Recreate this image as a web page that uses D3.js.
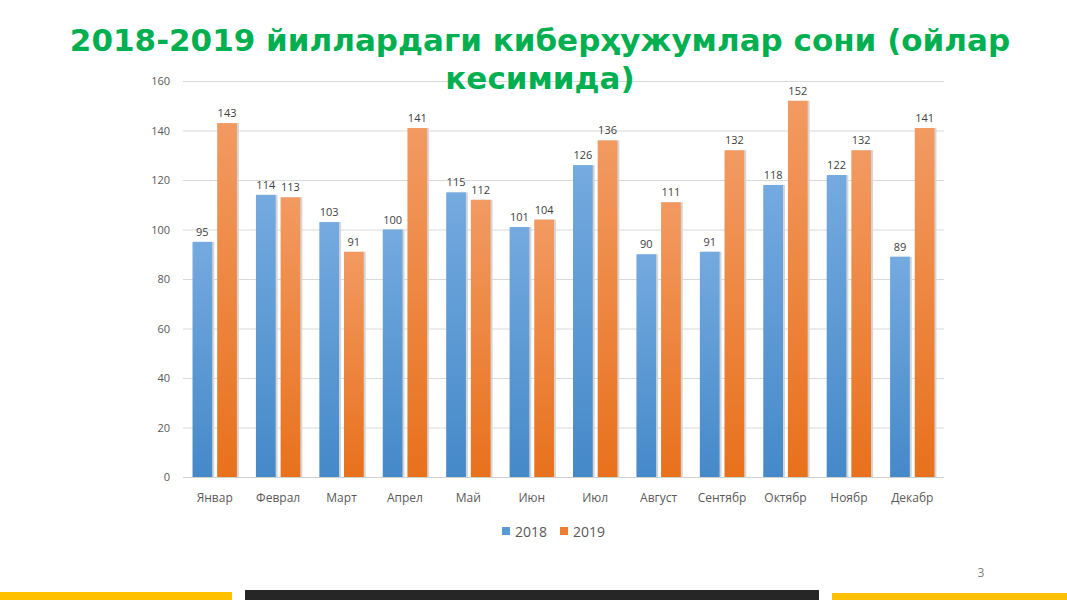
<!DOCTYPE html>
<html><head><meta charset="utf-8">
<script src="https://cdn.jsdelivr.net/npm/d3@7"></script>
<style>body{margin:0;background:#fff;overflow:hidden}</style>
</head><body>
<svg id="c" width="1067" height="600"></svg>
<script>
const months = ["Январ","Феврал","Март","Апрел","Май","Июн","Июл","Август","Сентябр","Октябр","Ноябр","Декабр"];
const values2018 = [95,114,103,100,115,101,126,90,91,118,122,89];
const values2019 = [143,113,91,141,112,104,136,111,132,152,132,141];
const seriesNames = ["2018","2019"];
const yTicks = [0,20,40,60,80,100,120,140,160];
const titleLines = ["2018-2019 йиллардаги киберҳужумлар сони (ойлар","кесимида)"];

(function(){
const svg = d3.select("#c");
const defs = svg.append("defs");
function grad(id, t, b){
  const g = defs.append("linearGradient").attr("id",id).attr("x1",0).attr("y1",0).attr("x2",0).attr("y2",1);
  g.append("stop").attr("offset","0%").attr("stop-color",t);
  g.append("stop").attr("offset","100%").attr("stop-color",b);
}
grad("gBlue","#74aadf","#4589c9");
grad("gOrange","#f29a62","#e8711c");
const fills = ["url(#gBlue)","url(#gOrange)"];
const legendFills = ["#5b9bd5","#ed7d31"];

const pL = 183, pR = 944, pT = 81, pB = 477;
const x = d3.scaleBand().domain(months).range([pL,pR]).paddingInner(0.3).paddingOuter(0.15);
const xs = d3.scaleBand().domain(seriesNames).range([0,x.bandwidth()]).paddingInner(0.2);
const y = d3.scaleLinear().domain([0,160]).range([pB,pT]);

svg.append("g").selectAll("line").data(yTicks).join("line")
  .attr("x1",pL).attr("x2",pR).attr("y1",d=>y(d)+0.5).attr("y2",d=>y(d)+0.5)
  .attr("stroke",d=>d===0?"#d0d0d0":"#d9d9d9").attr("stroke-width",1);

const yAxis = d3.axisLeft(y).tickValues(yTicks).tickSize(0).tickPadding(0);
const ya = svg.append("g").attr("transform",`translate(170,0)`).call(yAxis);
ya.select(".domain").remove();
ya.selectAll("text").attr("font-family","'Open Sans', sans-serif").attr("font-size",11).attr("fill","#595959");

const xAxis = d3.axisBottom(x).tickSize(0).tickPadding(0);
const xa = svg.append("g").attr("transform",`translate(0,${pB+16})`).call(xAxis);
xa.select(".domain").remove();
xa.selectAll("text").attr("font-family","'Open Sans', sans-serif").attr("font-size",12).attr("fill","#595959");

const data = months.map((m,i)=>({m, vals:[values2018[i],values2019[i]]}));
const groups = svg.append("g").selectAll("g").data(data).join("g")
  .attr("transform",d=>`translate(${x(d.m)},0)`);
seriesNames.forEach((s,si)=>{
  groups.append("rect")
    .attr("x",xs(s)+1).attr("width",xs.bandwidth()+1)
    .attr("y",d=>y(d.vals[si])).attr("height",d=>pB-y(d.vals[si]))
    .attr("fill","#d6d6d6");
  groups.append("rect")
    .attr("x",xs(s)).attr("width",xs.bandwidth())
    .attr("y",d=>y(d.vals[si])).attr("height",d=>pB-y(d.vals[si]))
    .attr("fill",fills[si]);
  groups.append("text")
    .attr("x",xs(s)+xs.bandwidth()/2).attr("y",d=>y(d.vals[si])-6)
    .attr("text-anchor","middle").attr("font-family","'Open Sans', sans-serif")
    .attr("font-size",11).attr("fill","#404040").text(d=>d.vals[si]);
});

const lg = svg.append("g").attr("transform","translate(502,532)");
const lx = [0,58];
seriesNames.forEach((s,i)=>{
  lg.append("rect").attr("x",lx[i]).attr("y",-5).attr("width",8).attr("height",8).attr("fill",legendFills[i]);
  lg.append("text").attr("x",lx[i]+13).attr("y",5).attr("font-family","'Open Sans', sans-serif")
    .attr("font-size",14).attr("fill","#595959").text(s);
});

svg.append("g").selectAll("text").data(titleLines).join("text")
  .attr("x",540).attr("y",(d,i)=>51+i*38).attr("text-anchor","middle")
  .attr("font-family","'DejaVu Sans', sans-serif").attr("font-weight","bold")
  .attr("font-size",31).attr("fill","#00b050").text(d=>d);

svg.append("text").attr("x",981).attr("y",577).attr("text-anchor","middle")
  .attr("font-family","'Open Sans', sans-serif").attr("font-size",12).attr("fill","#7f7f7f").text("3");

svg.append("rect").attr("x",0).attr("y",592).attr("width",232).attr("height",8).attr("fill","#ffc000");
svg.append("rect").attr("x",245).attr("y",590).attr("width",574).attr("height",10).attr("fill","#262626");
svg.append("rect").attr("x",832).attr("y",593).attr("width",235).attr("height",7).attr("fill","#ffc000");
})();
</script>
</body></html>
